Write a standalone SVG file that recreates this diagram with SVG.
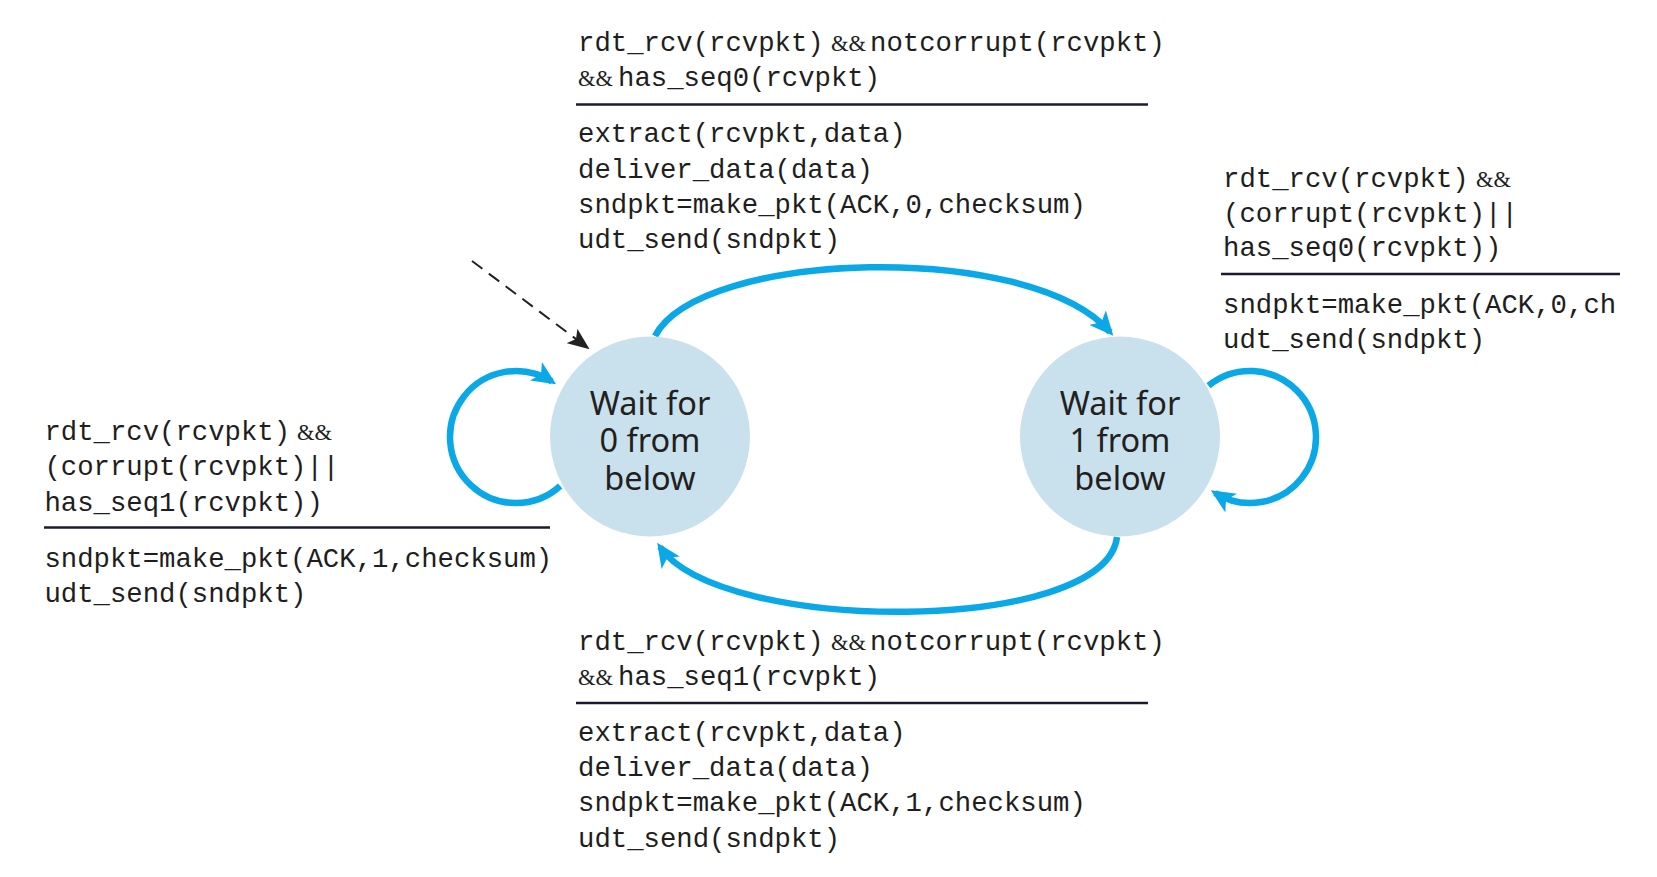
<svg xmlns="http://www.w3.org/2000/svg" width="1657" height="877" viewBox="0 0 1657 877">
<style>
.mono{font-family:"Liberation Mono","Courier New",monospace;font-size:27.3px;fill:#1e1e1e}
.amp{font-family:"Liberation Serif","Times New Roman",serif;font-size:22.5px;fill:#1e1e1e}
.node{fill:#c9e1ed}
.ntext{font-family:"Noto Sans","Open Sans",sans-serif;font-size:32.5px;fill:#231f20;text-anchor:middle}
.rule{stroke:#1b1b2f;stroke-width:2.5}
.edge{fill:none;stroke:#0aa8e6;stroke-width:6.5}
.dash{fill:none;stroke:#222;stroke-width:2;stroke-dasharray:13 8}
</style>
<defs>
<marker id="ah" markerUnits="userSpaceOnUse" markerWidth="24" markerHeight="22" viewBox="0 0 24 22" refX="19" refY="11" orient="auto">
<path d="M0,0 L24,11 L0,22 L6,11 z" fill="#0aa8e6"/>
</marker>
<marker id="ahk" markerUnits="userSpaceOnUse" markerWidth="22" markerHeight="18" viewBox="0 0 22 18" refX="20" refY="9" orient="auto">
<path d="M0,0 L22,9 L0,18 L5,9 z" fill="#222"/>
</marker>
</defs>

<g id="connectors">
<path class="edge" d="M655 336 C700 250, 1030 240, 1110 332" marker-end="url(#ah)"/>
<path class="edge" d="M1117 537 C1105 635, 720 635, 660 547" marker-end="url(#ah)"/>
<path class="edge" d="M560.2 486 A66 66 0 1 1 551.9 381.6" marker-end="url(#ah)"/>
<path class="edge" d="M1208.5 385.7 A66 66 0 1 1 1215 493" marker-end="url(#ah)"/>
<path class="dash" d="M472 261 L588 348" marker-end="url(#ahk)"/>
</g>

<g id="state0">
<circle class="node" cx="650" cy="436.5" r="100"/>
<text class="ntext" x="650" y="415">Wait for<tspan x="650" dy="37">0 from</tspan><tspan x="650" dy="38">below</tspan></text>
</g>

<g id="state1">
<circle class="node" cx="1120" cy="436.5" r="100"/>
<text class="ntext" x="1120" y="415">Wait for<tspan x="1120" dy="37">1 from</tspan><tspan x="1120" dy="38">below</tspan></text>
</g>

<g id="label-top">
<text class="mono" y="51"><tspan x="578">rdt_rcv(rcvpkt)</tspan><tspan class="amp" x="831">&amp;&amp;</tspan><tspan x="870">notcorrupt(rcvpkt)</tspan></text>
<text class="mono" y="86"><tspan class="amp" x="578">&amp;&amp;</tspan><tspan x="618">has_seq0(rcvpkt)</tspan></text>
<line class="rule" x1="576" y1="104.5" x2="1148" y2="104.5"/>
<text class="mono" x="578" y="142">extract(rcvpkt,data)</text>
<text class="mono" x="578" y="178">deliver_data(data)</text>
<text class="mono" x="578" y="213">sndpkt=make_pkt(ACK,0,checksum)</text>
<text class="mono" x="578" y="248">udt_send(sndpkt)</text>
</g>

<g id="label-bottom">
<text class="mono" y="650"><tspan x="578">rdt_rcv(rcvpkt)</tspan><tspan class="amp" x="831">&amp;&amp;</tspan><tspan x="870">notcorrupt(rcvpkt)</tspan></text>
<text class="mono" y="685"><tspan class="amp" x="578">&amp;&amp;</tspan><tspan x="618">has_seq1(rcvpkt)</tspan></text>
<line class="rule" x1="576" y1="703" x2="1148" y2="703"/>
<text class="mono" x="578" y="741">extract(rcvpkt,data)</text>
<text class="mono" x="578" y="776">deliver_data(data)</text>
<text class="mono" x="578" y="811">sndpkt=make_pkt(ACK,1,checksum)</text>
<text class="mono" x="578" y="847">udt_send(sndpkt)</text>
</g>

<g id="label-left">
<text class="mono" y="440"><tspan x="44.4">rdt_rcv(rcvpkt)</tspan><tspan class="amp" x="297">&amp;&amp;</tspan></text>
<text class="mono" x="44.4" y="475">(corrupt(rcvpkt)||</text>
<text class="mono" x="44.4" y="511">has_seq1(rcvpkt))</text>
<line class="rule" x1="44" y1="527.5" x2="550" y2="527.5"/>
<text class="mono" x="44.4" y="567">sndpkt=make_pkt(ACK,1,checksum)</text>
<text class="mono" x="44.4" y="602">udt_send(sndpkt)</text>
</g>

<g id="label-right">
<text class="mono" y="187"><tspan x="1223">rdt_rcv(rcvpkt)</tspan><tspan class="amp" x="1476">&amp;&amp;</tspan></text>
<text class="mono" x="1223" y="222">(corrupt(rcvpkt)||</text>
<text class="mono" x="1223" y="256">has_seq0(rcvpkt))</text>
<line class="rule" x1="1221" y1="274" x2="1620" y2="274"/>
<text class="mono" x="1223" y="313">sndpkt=make_pkt(ACK,0,ch</text>
<text class="mono" x="1223" y="348">udt_send(sndpkt)</text>
</g>
</svg>
